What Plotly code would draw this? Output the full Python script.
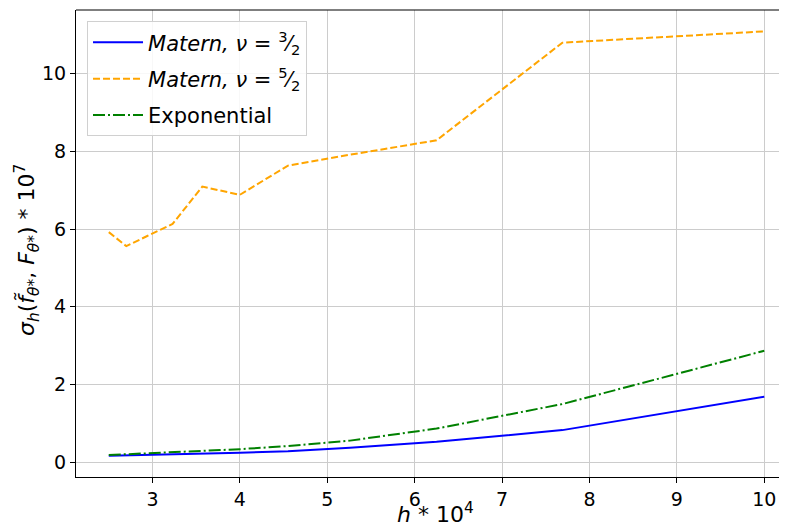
import plotly.graph_objects as go

h_vals = [2.5, 2.70, 2.94, 3.23, 3.57, 4.0, 4.55, 5.26, 6.25, 7.69, 10.0]
matern32 = [0.17, 0.18, 0.19, 0.20, 0.22, 0.25, 0.29, 0.38, 0.53, 0.83, 1.69]
matern52 = [5.92, 5.56, 5.82, 6.13, 7.09, 6.88, 7.63, 7.91, 8.28, 10.79, 11.08]
exponential = [0.19, 0.21, 0.23, 0.25, 0.29, 0.34, 0.42, 0.56, 0.87, 1.50, 2.87]

x_ticks = [3, 4, 5, 6, 7, 8, 9, 10]
y_ticks = [0, 2, 4, 6, 8, 10]

names = [
    "<i>Matern, ν</i> = <sup>3</sup>⁄<sub>2</sub>",
    "<i>Matern, ν</i> = <sup>5</sup>⁄<sub>2</sub>",
    "Exponential",
]
x_title = "<i>h</i> * 10<sup>4</sup>"
y_title = "<i>σ<sub>h</sub></i>(<i>f̃<sub>θ*</sub></i>, <i>F<sub>θ*</sub></i>) * 10<sup>7</sup>"

fig = go.Figure()
fig.add_trace(go.Scatter(x=h_vals, y=matern32, mode="lines", name=names[0],
                         legendgroup="a",
                         line=dict(color="#0000ff", width=2)))
fig.add_trace(go.Scatter(x=h_vals, y=matern52, mode="lines", name=names[1],
                         legendgroup="b",
                         line=dict(color="#ffa500", width=2, dash="7px,3px")))
fig.add_trace(go.Scatter(x=h_vals, y=exponential, mode="lines", name=names[2],
                         legendgroup="c",
                         line=dict(color="#008000", width=2, dash="12px,3px,2px,3px")))

axis_common = dict(
    showline=True, linecolor="black", linewidth=1.2,
    ticks="outside", ticklen=5, tickwidth=1.2, tickcolor="black",
    showgrid=True, gridcolor="#cccccc", gridwidth=1,
    zeroline=False, automargin=False,
    tickfont=dict(family="DejaVu Sans", size=19, color="black"),
)

# page body has an 8px margin: compensate so plot area sits at 76..787 x 10..477
fig.update_layout(
    width=779, height=519,
    margin=dict(l=68, r=0, t=2, b=50),
    plot_bgcolor="white", paper_bgcolor="white",
    font=dict(family="DejaVu Sans", color="black"),
    xaxis=dict(range=[2.125, 10.26], tickvals=x_ticks, **axis_common),
    yaxis=dict(range=[-0.375, 11.63], tickvals=y_ticks, **axis_common),
    legend=dict(x=0.0155, y=0.976, xanchor="left", yanchor="top",
                bgcolor="rgba(255,255,255,0.85)", bordercolor="#d0d0d0", borderwidth=1,
                font=dict(family="DejaVu Sans", size=21),
                tracegroupgap=6, itemwidth=50),
    showlegend=True,
)
fig.add_annotation(text=x_title, xref="paper", yref="paper", x=0.505, y=-0.077,
                   xanchor="center", yanchor="middle", showarrow=False,
                   font=dict(family="DejaVu Sans", size=22, color="black"))
fig.add_annotation(text=y_title, xref="paper", yref="paper", x=-0.069, y=0.486,
                   xanchor="center", yanchor="middle", showarrow=False, textangle=-90,
                   font=dict(family="DejaVu Sans", size=22, color="black"))
# top spine
fig.add_shape(type="line", xref="paper", yref="paper", x0=0, x1=1, y0=1, y1=1,
              line=dict(color="black", width=1.2))

fig.write_html("out.html")
